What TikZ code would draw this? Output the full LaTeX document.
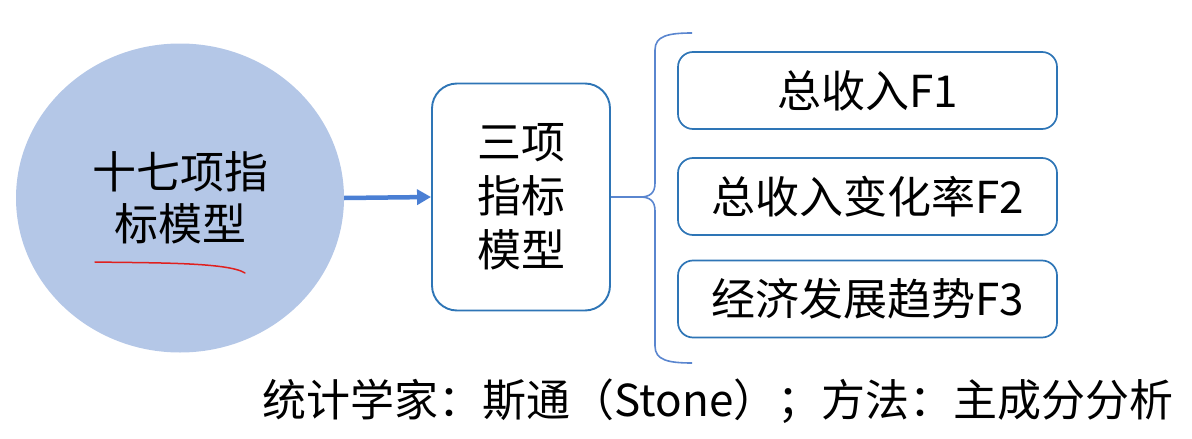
\documentclass[tikz,border=0pt]{standalone}
\usepackage{fontspec}
\setmainfont{Noto Sans CJK SC}
\usepackage{tikz}
\usetikzlibrary{arrows.meta,shapes.geometric}
\definecolor{pcBlueFill}{HTML}{B4C7E7}
\definecolor{pcBlueLine}{HTML}{2E75B6}
\definecolor{pcBlue}{HTML}{5A86CF}
\definecolor{pcArrow}{HTML}{4A7FD4}
\definecolor{pcRed}{HTML}{E0201E}

\begin{document}
\begin{tikzpicture}[
  x=1pt,y=-1pt,
  every node/.style={font=\fontsize{44}{54}\selectfont,text=black,inner sep=0pt},
  model/.style={ellipse,fill=pcBlueFill,minimum width=328pt,minimum height=309pt,align=center},
  group/.style={draw=pcBlueLine,line width=1.9pt,rounded corners=25pt,
    minimum width=178pt,minimum height=227pt,align=center},
  factor/.style={draw=pcBlueLine,line width=1.7pt,rounded corners=15pt,
    minimum width=379pt,minimum height=77pt},
  flow/.style={-{Triangle[length=14pt,width=15pt]},line width=4.5pt,draw=pcArrow},
  brace/.style={draw=pcBlue,line width=1.6pt}
]
  \useasboundingbox (0,0) rectangle (1192,439);
  \node[model] (big) at (180,198) {十七项指\\[-2pt]标模型};
  \node[group] (mid) at (521,197) {三项\\指标\\模型};

  \node[factor] (f1) at (867.5,90.5) {总收入F1};
  \node[factor] (f2) at (867.5,196.5) {总收入变化率F2};
  \node[factor] (f3) at (867.5,299) {经济发展趋势F3};

  \coordinate (tip) at (640,197);
  \draw[flow] (big.east) -- (mid.west);
  \draw[brace] (mid.east) -- (tip);
  \draw[brace] (692,33) .. controls (668,33) and (655,36) .. (655,50) -- (655,183)
    .. controls (655,193) and (650,197) .. (tip)
    .. controls (650,197) and (655,201) .. (655,211) -- (655,346)
    .. controls (655,360) and (668,363) .. (692,363);

  % red underline
  \draw[pcRed,line width=1.5pt,line cap=round] (95,262) .. controls (150,263) and (228,262) .. (245,273);

  \node (note) at (718,401) {统计学家：斯通（Stone）；方法：主成分分析};
\end{tikzpicture}
\end{document}
